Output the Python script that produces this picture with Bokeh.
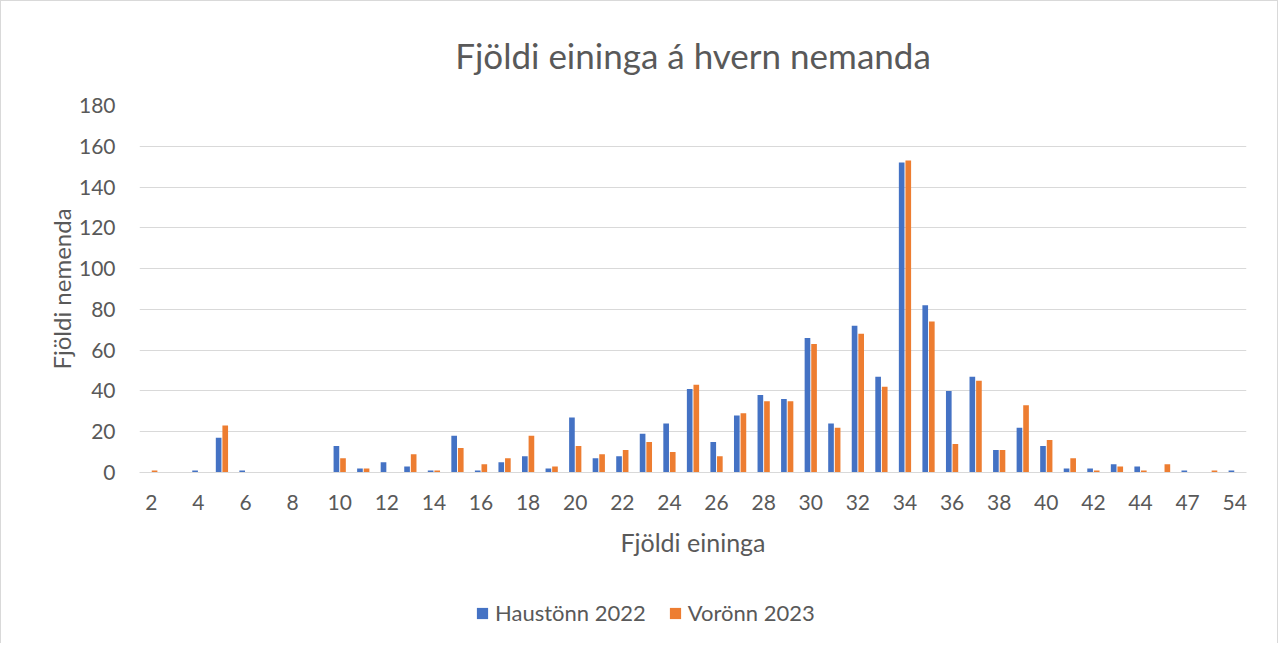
from bokeh.plotting import figure
from bokeh.layouts import column
from bokeh.models import Range1d, Legend, LegendItem, ColumnDataSource, FixedTicker
from bokeh.transform import dodge
from bokeh.embed import file_html
from bokeh.resources import INLINE

categories = [str(i) for i in range(2, 45)] + ["45", "47", "50", "54"]
haust_2022 = [0, 0, 1, 17, 1, 0, 0, 0, 13, 2, 5, 3, 1, 18, 1, 5, 8, 2, 27, 7, 8, 19, 24, 41, 15, 28, 38, 36,
              66, 24, 72, 47, 152, 82, 40, 47, 11, 22, 13, 2, 2, 4, 3, 0, 1, 0, 1]
vor_2023 = [1, 0, 0, 23, 0, 0, 0, 0, 7, 2, 0, 9, 1, 12, 4, 7, 18, 3, 13, 9, 11, 15, 10, 43, 8, 29, 35, 35,
            63, 22, 68, 42, 153, 74, 14, 45, 11, 33, 16, 7, 1, 3, 1, 4, 0, 1, 0]
series_names = ["Haustönn 2022", "Vorönn 2023"]
colors = ["#4472C4", "#ED7D31"]

FONT = "Lato"
TXT = "#595959"
GRID = "#d9d9d9"

idx = list(range(len(categories)))
src = ColumnDataSource(dict(x=idx, cat=categories, h=haust_2022, v=vor_2023))

p = figure(width=1276, height=578, x_range=Range1d(-0.5, len(categories) - 0.5),
           y_range=Range1d(0, 180), output_backend="svg", toolbar_location=None,
           min_border_left=138, min_border_right=31, min_border_top=102, min_border_bottom=107)
p.outline_line_color = None

r1 = p.vbar(x=dodge("x", -0.14), top="h", width=0.24, source=src,
            fill_color=colors[0], line_color=None)
r2 = p.vbar(x=dodge("x", 0.14), top="v", width=0.24, source=src,
            fill_color=colors[1], line_color=None)

p.title.text = "Fjöldi eininga á hvern nemanda"
p.title.align = "center"
p.title.text_font = FONT
p.title.text_font_size = "35px"
p.title.text_font_style = "normal"
p.title.text_color = TXT
p.title.standoff = 60

p.xgrid.grid_line_color = None
p.ygrid.grid_line_color = GRID
p.ygrid.grid_line_width = 1

p.yaxis.ticker = FixedTicker(ticks=list(range(0, 181, 20)))
p.yaxis.axis_line_color = None
p.yaxis.major_tick_line_color = None
p.yaxis.minor_tick_line_color = None
p.yaxis.major_tick_out = 0
p.yaxis.major_label_standoff = 24
p.yaxis.major_label_text_font = FONT
p.yaxis.major_label_text_font_size = "21px"
p.yaxis.major_label_text_color = TXT
p.yaxis.axis_label = "Fjöldi nemenda"
p.yaxis.axis_label_text_font = FONT
p.yaxis.axis_label_text_font_size = "24px"
p.yaxis.axis_label_text_font_style = "normal"
p.yaxis.axis_label_text_color = TXT
p.yaxis.axis_label_standoff = 0

p.xaxis.ticker = FixedTicker(ticks=idx[::2])
p.xaxis.major_label_overrides = {i: categories[i] for i in idx[::2]}
p.xaxis.axis_line_color = GRID
p.xaxis.axis_line_width = 1
p.xaxis.major_tick_line_color = None
p.xaxis.minor_tick_line_color = None
p.xaxis.major_tick_out = 0
p.xaxis.major_label_standoff = 22
p.xaxis.major_label_text_font = FONT
p.xaxis.major_label_text_font_size = "21px"
p.xaxis.major_label_text_color = TXT
p.xaxis.axis_label = "Fjöldi eininga"
p.xaxis.axis_label_text_font = FONT
p.xaxis.axis_label_text_font_size = "25px"
p.xaxis.axis_label_text_font_style = "normal"
p.xaxis.axis_label_text_color = TXT
p.xaxis.axis_label_standoff = 14

# legend-only strip below the chart (its frame is aligned with the main frame)
leg = figure(width=1276, height=64, x_range=Range1d(-0.5, len(categories) - 0.5),
             y_range=Range1d(1000, 1001), output_backend="svg", toolbar_location=None,
             x_axis_type=None, y_axis_type=None, min_border=0)
leg.outline_line_color = None
leg.xgrid.grid_line_color = None
leg.ygrid.grid_line_color = None
l1 = leg.vbar(x="x", top="h", width=0.24, source=src, fill_color=colors[0], line_color=None)
l2 = leg.vbar(x="x", top="v", width=0.24, source=src, fill_color=colors[1], line_color=None)

legend = Legend(items=[LegendItem(label=series_names[0], renderers=[l1]),
                       LegendItem(label=series_names[1], renderers=[l2])],
                orientation="horizontal", location=(336, 17))
legend.label_text_font = FONT
legend.label_text_font_size = "22px"
legend.label_text_color = TXT
legend.glyph_width = 14
legend.glyph_height = 14
legend.spacing = 22
legend.label_standoff = 6
legend.padding = 0
legend.margin = 0
legend.border_line_color = None
legend.background_fill_alpha = 0
leg.add_layout(legend, "center")

layout = column(p, leg, spacing=0)
layout.styles = {"border-left": "1px solid #d9d9d9", "border-top": "1px solid #d9d9d9",
                 "border-right": "1px solid #d9d9d9"}

open("out.html", "w").write(file_html(layout, INLINE))
